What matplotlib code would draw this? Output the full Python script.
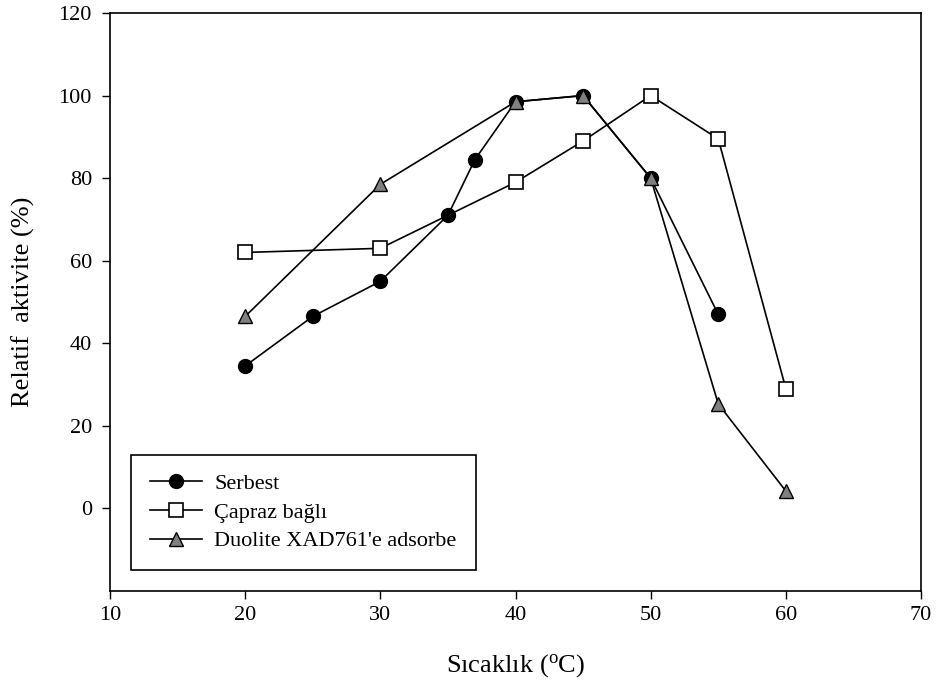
import matplotlib
matplotlib.use("Agg")
import matplotlib.pyplot as plt

plt.rcParams['font.family'] = ['Liberation Serif', 'DejaVu Serif']
plt.rcParams['mathtext.fontset'] = 'custom'
plt.rcParams['mathtext.rm'] = 'Liberation Serif'

# Data
serbest_x = [20, 25, 30, 35, 37, 40, 45, 50, 55]
serbest_y = [34.5, 46.5, 55, 71, 84.5, 98.5, 100, 80, 47]

capraz_x = [20, 30, 40, 45, 50, 55, 60]
capraz_y = [62, 63, 79, 89, 100, 89.5, 29]

duolite_x = [20, 30, 40, 45, 50, 55, 60]
duolite_y = [46.5, 78.5, 98.5, 100, 80, 25.3, 4.2]

labels = ["Serbest", "Çapraz bağlı", "Duolite XAD761'e adsorbe"]

fig = plt.figure(figsize=(9.36, 6.84), dpi=100)
ax = fig.add_axes([0.1175, 0.136, 0.8665, 0.845])

ax.plot(serbest_x, serbest_y, color='black', lw=1.2, marker='o', ms=10,
        mfc='black', mec='black', label=labels[0], zorder=3)
ax.plot(capraz_x, capraz_y, color='black', lw=1.2, marker='s', ms=9.5,
        mfc='white', mec='black', mew=1.2, label=labels[1], zorder=3)
ax.plot(duolite_x, duolite_y, color='black', lw=1.2, marker='^', ms=10,
        mfc='#808080', mec='black', mew=1.0, label=labels[2], zorder=4)

ax.set_xlim(10, 70)
ax.set_ylim(-20, 120)
ax.set_xticks(range(10, 71, 10))
ax.set_yticks(range(0, 121, 20))
ax.tick_params(direction='out', length=6, width=1, labelsize=16, top=False, right=False)
ax.tick_params(axis='x', pad=4.5)
ax.tick_params(axis='y', pad=7)
for s in ax.spines.values():
    s.set_linewidth(1.2)

ax.set_xlabel("Sıcaklık ($\\mathrm{^{o}}$C)", fontsize=19, labelpad=20)
ax.set_ylabel("Relatif  aktivite (%)", fontsize=19, labelpad=17)

leg = ax.legend(loc='lower left', bbox_to_anchor=(0.026, 0.036), borderaxespad=0,
                fontsize=16, fancybox=False, framealpha=1, edgecolor='black',
                handlelength=2.35, borderpad=0.85, labelspacing=0.36, handletextpad=0.55)
leg.get_frame().set_linewidth(1.2)

fig.savefig("out.png", dpi=100)
